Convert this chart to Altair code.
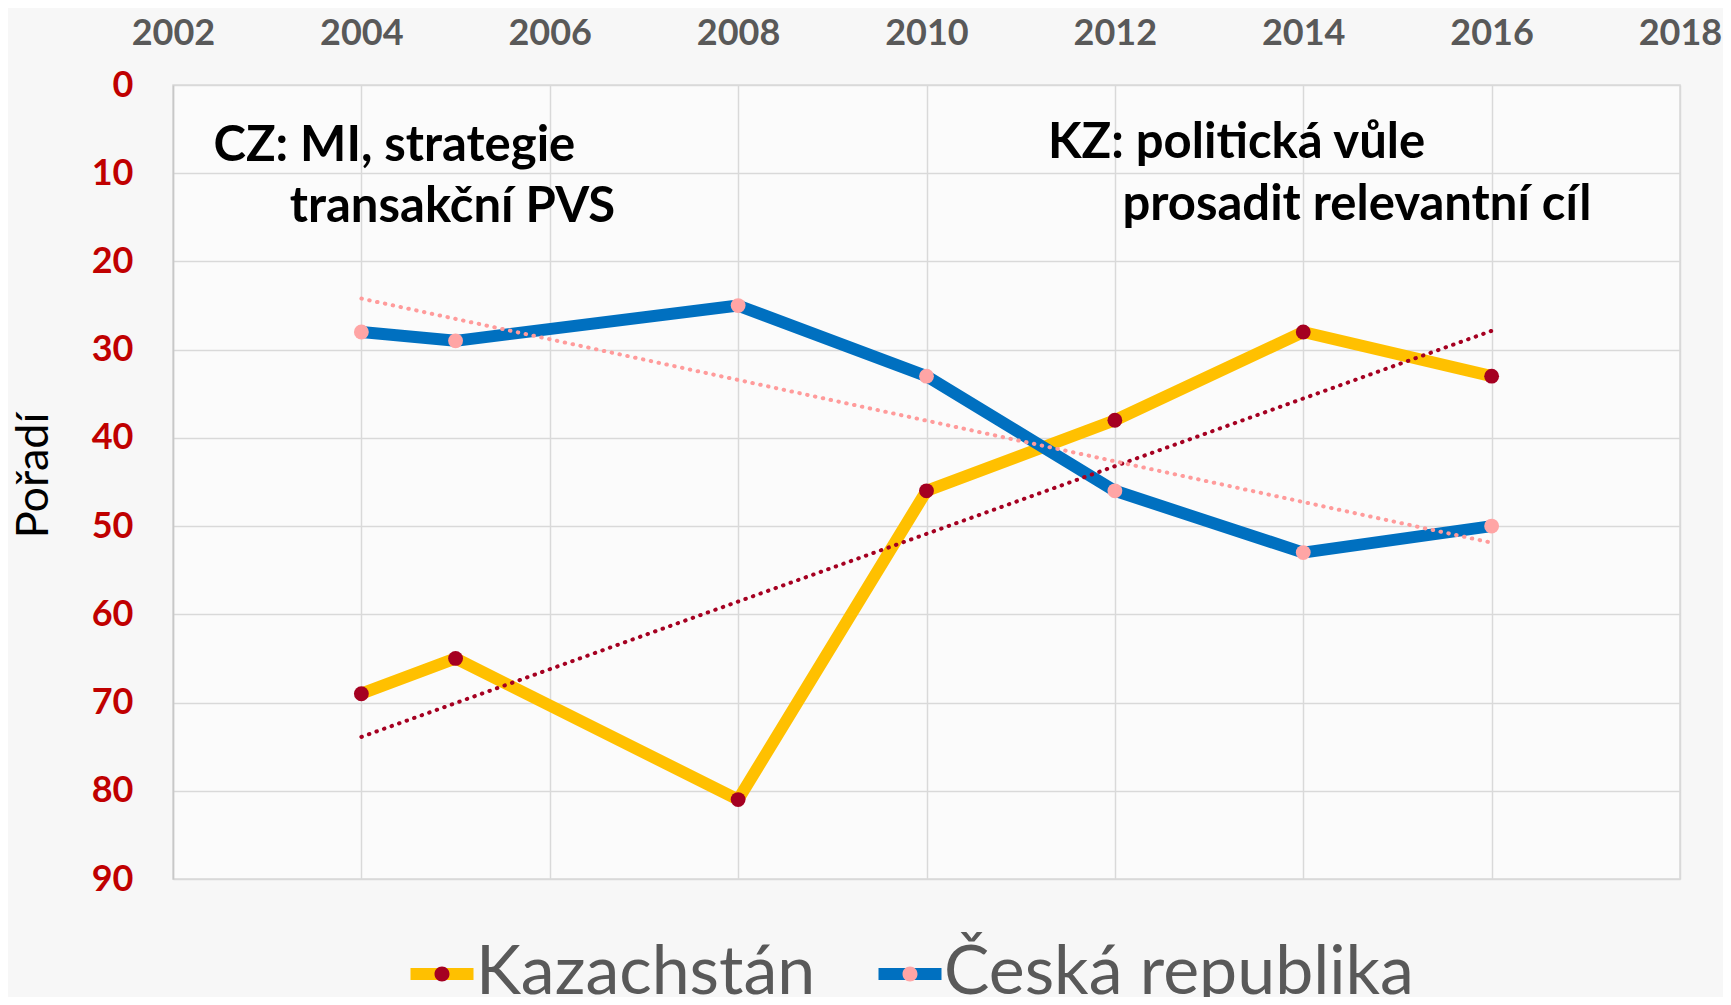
import altair as alt
import pandas as pd

# ---- data ----
years = [2004, 2005, 2008, 2010, 2012, 2014, 2016]
kz_rank = [69, 65, 81, 46, 38, 28, 33]
cz_rank = [28, 29, 25, 33, 46, 53, 50]
series = ["Kazachstán", "Česká republika"]
line_colors = ["#FFC000", "#0070C0"]
marker_colors = ["#A50021", "#FFA5A5"]
trend_colors = ["#A50021", "#FF9B9B"]
x_ticks = [2002, 2004, 2006, 2008, 2010, 2012, 2014, 2016, 2018]
y_ticks = [0, 10, 20, 30, 40, 50, 60, 70, 80, 90]

ann_text = ["CZ: MI, strategie", "transakční PVS", "KZ: politická vůle", "prosadit relevantní cíl"]
ann_x = [2002.43, 2003.24, 2011.29, 2012.08]
ann_y = [8.6, 15.5, 8.3, 15.3]

FONT = "Lato"

rows = []
for s, vals in zip(series, [kz_rank, cz_rank]):
    for yr, v in zip(years, vals):
        rows.append({"series": s, "year": yr, "rank": v})
df = pd.DataFrame(rows)
ann = pd.DataFrame({"label": ann_text, "year": ann_x, "rank": ann_y})

x = alt.X(
    "year:Q",
    scale=alt.Scale(domain=[2002, 2018], nice=False, zero=False),
    axis=alt.Axis(
        orient="top", values=x_ticks, format="d", title=None,
        labelFont=FONT, labelFontSize=36, labelFontWeight="bold", labelColor="#595959",
        ticks=False, tickSize=0, domain=False, labelPadding=41, labelBaseline="alphabetic",
        grid=True, gridColor="#D9D9D9", gridWidth=1.5, labelFlush=False, labelOverlap=False,
    ),
)
y = alt.Y(
    "rank:Q",
    scale=alt.Scale(domain=[0, 90], reverse=True, nice=False, zero=False),
    axis=alt.Axis(
        values=y_ticks, title="Pořadí",
        labelFont=FONT, labelFontSize=36, labelFontWeight="bold", labelColor="#C00000",
        ticks=False, tickSize=0, domain=True, domainColor="#C8C8C8", domainWidth=1.5,
        labelPadding=40, labelBaseline="middle", labelFlush=False, labelOverlap=False,
        grid=True, gridColor="#D9D9D9", gridWidth=1.5,
        titleFont=FONT, titleFontSize=45, titleFontWeight="normal", titleColor="#000000",
        titleAngle=270, titleX=-140, titleY=390, titleBaseline="middle", titleAlign="center",
    ),
)

legend_common = dict(
    orient="none", legendX=235, legendY=855, direction="horizontal", title=None,
    symbolSize=2500, symbolStrokeWidth=12, labelFont=FONT, labelFontSize=68,
    labelColor="#595959", labelOffset=0, columnPadding=38, padding=0, labelLimit=0,
    symbolOpacity=1,
)

BAR_PATH = "M-1.26,0L1.26,0"
DOT_PATH = "M-0.3,0A0.3,0.3,0,1,1,0.3,0A0.3,0.3,0,1,1,-0.3,0Z"

base = alt.Chart(df)

lines = base.mark_line(strokeWidth=12, strokeJoin="round", strokeCap="round").encode(
    x=x, y=y,
    stroke=alt.Stroke(
        "series:N",
        scale=alt.Scale(domain=series, range=line_colors),
        legend=alt.Legend(symbolType=BAR_PATH, **legend_common),
    ),
    order=alt.Order("year:Q"),
)

points = base.mark_circle(size=220, opacity=1).encode(
    x=x, y=y,
    fill=alt.Fill(
        "series:N",
        scale=alt.Scale(range=marker_colors),
        legend=alt.Legend(
            symbolType=BAR_PATH + DOT_PATH,
            symbolStrokeColor="transparent", labelOpacity=0, **legend_common,
        ),
    ),
)

trends = base.transform_regression(
    "year", "rank", groupby=["series"], method="linear"
).mark_line(strokeWidth=4, strokeDash=[0.5, 7.5], strokeCap="round").encode(
    x=x, y=y,
    color=alt.Color("series:N", scale=alt.Scale(domain=series, range=trend_colors), legend=None),
)

texts = alt.Chart(ann).mark_text(
    align="left", baseline="alphabetic", font=FONT, fontSize=49, fontWeight="bold", color="#000000"
).encode(x=x, y=y, text="label:N")

chart = alt.layer(lines, points, trends, texts).properties(
    width=1507, height=794,
    padding={"left": 165, "top": 77, "right": 43, "bottom": 118},
    autosize=alt.AutoSizeParams(type="none"),
    background="#F7F7F7",
).configure_view(stroke="#D9D9D9", strokeWidth=1.5, fill="#FBFBFB")

chart.save("out.html", embed_options={"renderer": "svg", "actions": False})
